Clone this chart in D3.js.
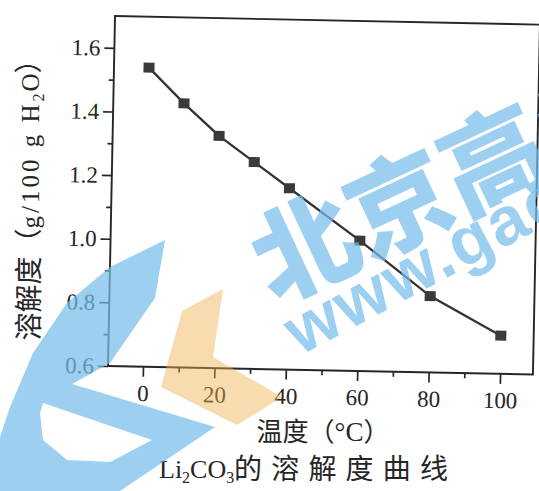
<!DOCTYPE html>
<html>
<head>
<meta charset="utf-8">
<script src="https://cdn.jsdelivr.net/npm/d3@7"></script>
<style>
  html, body { margin: 0; padding: 0; background: #fff; }
  svg { display: block; }
</style>
</head>
<body>
<div id="chart"></div>
<script>
// ---- data ----
const temperatures = [0, 10, 20, 30, 40, 60, 80, 100];          // °C
const solubility   = [1.54, 1.43, 1.33, 1.25, 1.17, 1.01, 0.84, 0.72]; // g/100 g H2O
const xMajorTicks = [0, 20, 40, 60, 80, 100];
const xMinorTicks = [10, 30, 50, 70, 90];
const yMajorTicks = [0.6, 0.8, 1.0, 1.2, 1.4, 1.6];
const yMinorTicks = [0.7, 0.9, 1.1, 1.3, 1.5];
const xTitleCJK = "温度（";
const xTitleUnit = "°C";
const yTitleCJK = "溶解度（";
const captionCJK = "的溶解度曲线";

const W = 539, H = 491;
const serif = "'Liberation Serif', 'DejaVu Serif', serif";
const cjk = "'Noto Sans CJK SC', 'Noto Sans', sans-serif";
const ink = "#262626";

const svg = d3.select("#chart").append("svg")
  .attr("width", W).attr("height", H)
  .attr("viewBox", `0 0 ${W} ${H}`);
svg.append("rect").attr("width", W).attr("height", H).attr("fill", "#fff");

// plot frame (the scan is slightly rotated)
const plotW = 425, plotH = 350;
const g = svg.append("g").attr("transform", "translate(108,366) rotate(1.15)");

const x = d3.scaleLinear().domain([-9.8, 109.2]).range([0, plotW]);
const y = d3.scaleLinear().domain([0.6, 1.70]).range([0, -plotH]);

g.append("rect")
  .attr("x", 0).attr("y", -plotH).attr("width", plotW).attr("height", plotH)
  .attr("fill", "none").attr("stroke", ink).attr("stroke-width", 1.9);

function styleAxis(sel) {
  sel.select(".domain").remove();
  sel.selectAll(".tick line").attr("stroke", ink).attr("stroke-width", 1.7);
  sel.selectAll(".tick text")
    .attr("fill", ink)
    .style("font-family", serif)
    .style("font-size", "23px");
}

g.append("g")
  .call(d3.axisBottom(x).tickValues(xMajorTicks).tickSize(10).tickPadding(8).tickFormat(d3.format("d")))
  .call(styleAxis);
g.append("g")
  .call(d3.axisBottom(x).tickValues(xMinorTicks).tickSize(5).tickFormat(""))
  .call(styleAxis);
g.append("g")
  .call(d3.axisLeft(y).tickValues(yMajorTicks).tickSize(10).tickPadding(4).tickFormat(d3.format(".1f")))
  .call(styleAxis);
g.append("g")
  .call(d3.axisLeft(y).tickValues(yMinorTicks).tickSize(5).tickFormat(""))
  .call(styleAxis);

const pts = temperatures.map((t, i) => ({ t, s: solubility[i] }));
g.append("path")
  .datum(pts)
  .attr("fill", "none")
  .attr("stroke", "#333")
  .attr("stroke-width", 2.3)
  .attr("d", d3.line().x(d => x(d.t)).y(d => y(d.s)));

g.selectAll("rect.pt")
  .data(pts)
  .enter().append("rect")
  .attr("class", "pt")
  .attr("x", d => x(d.t) - 5.5)
  .attr("y", d => y(d.s) - 5)
  .attr("width", 11).attr("height", 10)
  .attr("fill", "#3a3a3a");

// y axis title
const yt = svg.append("text")
  .attr("transform", "translate(39,193) rotate(-90)")
  .attr("text-anchor", "middle")
  .attr("fill", ink);
yt.append("tspan").style("font-family", cjk).style("font-size", "28px").text(yTitleCJK);
yt.append("tspan").style("font-family", serif).style("font-size", "25px").attr("letter-spacing", 3).text("g/100 g H");
yt.append("tspan").style("font-family", serif).style("font-size", "16px").attr("dy", 5).attr("letter-spacing", 2).text("2");
yt.append("tspan").style("font-family", serif).style("font-size", "25px").attr("dy", -5).text("O");
yt.append("tspan").style("font-family", cjk).style("font-size", "28px").text("）");

// x axis title
const xt = svg.append("text")
  .attr("x", 323).attr("y", 441)
  .attr("text-anchor", "middle")
  .attr("fill", ink);
xt.append("tspan").style("font-family", cjk).style("font-size", "26px").text(xTitleCJK);
xt.append("tspan").style("font-family", serif).style("font-size", "27px").text(xTitleUnit);
xt.append("tspan").style("font-family", cjk).style("font-size", "26px").text("）");

// caption
const cap = svg.append("text").attr("x", 159).attr("y", 478).attr("fill", ink)
  .style("font-family", serif).style("font-size", "26px");
cap.append("tspan").text("Li");
cap.append("tspan").style("font-size", "16px").attr("dy", 5).text("2");
cap.append("tspan").attr("dy", -5).text("CO");
cap.append("tspan").style("font-size", "16px").attr("dy", 5).text("3");
svg.append("text").attr("x", 234).attr("y", 479).attr("fill", ink)
  .style("font-family", cjk).style("font-size", "28px")
  .attr("textLength", 214).attr("lengthAdjust", "spacing")
  .text(captionCJK);

// ---- watermark overlay (decoration) ----
const wm = svg.append("g").attr("pointer-events", "none");
const blue = "rgb(118,188,234)";
const op = 0.72;
const cShape = [[165,240],[155,298],[110,363],[72,384],[215,427],[120,491],[0,491],[0,437],[10,407],[33,353],[67,303],[110,267]];
const cHole = [[43,403],[152,440],[110,462],[67,460],[43,440],[40,413]];
const toPath = pts => "M" + pts.map(p => p.join(",")).join("L") + "Z";
wm.append("path")
  .attr("d", toPath(cShape) + toPath(cHole))
  .attr("fill-rule", "evenodd")
  .attr("fill", blue).attr("fill-opacity", op);
const chevron = [[223,289],[182,311],[161,387],[237,425],[282,397],[213,357]];
wm.append("path").attr("d", toPath(chevron))
  .attr("fill", "rgb(240,178,80)").attr("fill-opacity", 0.45);
wm.append("text")
  .attr("transform", "translate(274,304) rotate(-25)")
  .style("font-family", cjk).style("font-size", "104px").style("font-weight", 900)
  .attr("fill", blue).attr("fill-opacity", op)
  .text("北京高考");
wm.append("text")
  .attr("transform", "translate(300,356) rotate(-28)")
  .style("font-family", "'Liberation Sans', Arial, sans-serif").style("font-size", "68px").style("font-weight", 700)
  .attr("letter-spacing", 2)
  .attr("fill", blue).attr("fill-opacity", op)
  .text("www.gaokao.com");
</script>
</body>
</html>
